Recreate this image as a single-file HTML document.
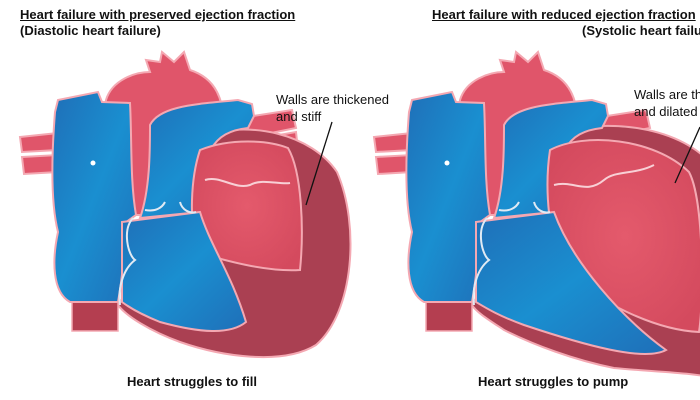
<!DOCTYPE html>
<html><head><meta charset="utf-8"><style>
html,body{margin:0;padding:0;background:#fff;}
body{width:700px;height:400px;overflow:hidden;position:relative;font-family:"Liberation Sans",Arial,sans-serif;}
.t{position:absolute;font-weight:bold;font-size:13px;color:#111;white-space:nowrap;}
.l{position:absolute;font-size:13px;color:#111;white-space:nowrap;line-height:17px;}
</style></head><body>
<svg width="700" height="400" style="position:absolute;left:0;top:0">
<defs>
<linearGradient id="bl" x1="0" y1="0" x2="1" y2="1"><stop offset="0" stop-color="#1f6fb8"/><stop offset="0.5" stop-color="#1a8fd0"/><stop offset="1" stop-color="#1f6fb8"/></linearGradient>
<radialGradient id="lc" cx="0.5" cy="0.5" r="0.6"><stop offset="0" stop-color="#e45a6c"/><stop offset="1" stop-color="#d44a5e"/></radialGradient>
<g id="vess">
 <path d="M240,118 L292,110 L296,128 L246,138 Z" fill="#e0556a" stroke="#f4a8b2" stroke-width="2"/>
 <path d="M250,140 L296,132 L298,150 L256,158 Z" fill="#e0556a" stroke="#f4a8b2" stroke-width="2"/>
</g>
<g id="base">
 <path d="M20,137 L58,133 L58,150 L22,152 Z" fill="#e0556a" stroke="#f4a8b2" stroke-width="2"/>
 <path d="M22,157 L58,155 L58,172 L24,174 Z" fill="#e0556a" stroke="#f4a8b2" stroke-width="2"/>
 <rect x="72" y="298" width="46" height="33" fill="#b43e50" stroke="#f4a8b2" stroke-width="1.5"/>
 <path d="M106,100 C112,80 135,72 150,72 L146,60 L160,62 L162,52 L174,62 L184,52 L190,70 C215,78 226,100 222,130 L160,130 C152,150 150,185 150,215 L136,215 C112,190 100,150 106,100 Z" fill="#e0556a" stroke="#f4a8b2" stroke-width="2"/>
 <path d="M58,100 L98,92 L102,102 L130,103 C132,140 130,180 136,215 L122,225 C126,260 120,290 118,302 L70,302 C52,292 52,260 58,232 C50,200 52,150 55,112 Z" fill="url(#bl)" stroke="#f4a8b2" stroke-width="2"/>
 <path d="M150,125 C160,105 200,104 238,100 L252,104 L254,116 L248,128 C212,132 202,152 200,212 L140,218 C150,190 150,150 150,125 Z" fill="url(#bl)" stroke="#f4a8b2" stroke-width="2"/>
 <circle cx="93" cy="163" r="2.5" fill="#fff"/>
</g>
</defs>

<!-- LEFT HEART -->
<g>
 <use href="#vess"/>
 <path d="M195,138 C250,118 312,135 337,172 C360,225 354,312 316,345 C282,366 220,356 180,342 C150,331 126,316 118,305 L190,200 Z" fill="#aa4052" stroke="#f4a8b2" stroke-width="2"/>
 <use href="#base"/>
 <path d="M200,150 C230,138 268,140 288,148 C302,172 304,230 300,270 C268,272 230,262 196,252 C190,220 190,180 200,150 Z" fill="url(#lc)" stroke="#f4a8b2" stroke-width="2"/>
 <path d="M205,180 C220,175 235,190 250,185 C262,178 280,185 290,183" fill="none" stroke="#f8d0d6" stroke-width="2"/>
 <path d="M122,222 L200,212 C210,245 232,275 246,322 C230,335 200,333 160,322 C140,314 130,308 122,302 Z" fill="url(#bl)" stroke="#f4a8b2" stroke-width="2"/>
 <path d="M133,218 C122,230 128,255 135,260 C122,270 118,290 120,305" fill="none" stroke="#e0eaf4" stroke-width="2"/>
 <path d="M145,210 C155,212 162,208 165,202 M180,202 C182,210 190,214 196,212" fill="none" stroke="#e0eaf4" stroke-width="2"/>
 <line x1="332" y1="122" x2="306" y2="205" stroke="#111" stroke-width="1.3"/>
</g>

<!-- RIGHT HEART -->
<g transform="translate(354,0)">
 <use href="#vess"/>
 <path d="M190,136 C250,116 330,125 362,170 L370,380 C340,372 300,372 260,368 C220,360 180,345 150,330 C135,320 122,312 118,305 L185,200 Z" fill="#aa4052" stroke="#f4a8b2" stroke-width="2"/>
 <use href="#base"/>
 <path d="M196,150 C230,132 300,138 335,172 C350,200 350,300 345,332 C300,330 240,300 210,270 C195,240 190,190 196,150 Z" fill="url(#lc)" stroke="#f4a8b2" stroke-width="2"/>
 <path d="M200,185 C220,180 232,195 250,180 C262,170 280,175 300,165" fill="none" stroke="#f8d0d6" stroke-width="2"/>
 <path d="M122,222 L200,212 C218,262 268,318 312,350 C290,362 230,345 170,325 C145,316 132,308 122,302 Z" fill="url(#bl)" stroke="#f4a8b2" stroke-width="2"/>
 <path d="M133,218 C122,230 128,255 135,260 C122,270 118,290 120,305" fill="none" stroke="#e0eaf4" stroke-width="2"/>
 <path d="M145,210 C155,212 162,208 165,202 M180,202 C182,210 190,214 196,212" fill="none" stroke="#e0eaf4" stroke-width="2"/>
 <line x1="346" y1="127" x2="321" y2="183" stroke="#111" stroke-width="1.3"/>
</g>
</svg>

<div class="t" style="left:20px;top:7px;text-decoration:underline">Heart failure with preserved ejection fraction</div>
<div class="t" style="left:20px;top:23px">(Diastolic heart failure)</div>
<div class="t" style="left:432px;top:7px;text-decoration:underline">Heart failure with reduced ejection fraction</div>
<div class="t" style="left:582px;top:23px">(Systolic heart failure)</div>
<div class="l" style="left:276px;top:91px">Walls are thickened<br>and stiff</div>
<div class="l" style="left:634px;top:86px">Walls are thin<br>and dilated</div>
<div class="t" style="left:127px;top:374px">Heart struggles to fill</div>
<div class="t" style="left:478px;top:374px">Heart struggles to pump</div>
</body></html>
